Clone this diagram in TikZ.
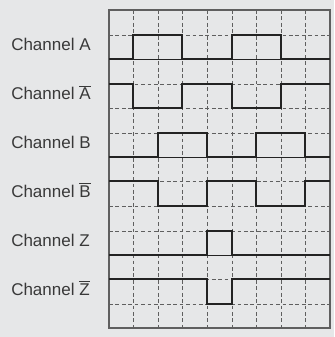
\documentclass[tikz,border=0pt]{standalone}
\usepackage{fontspec}
\setmainfont{Liberation Sans}
\definecolor{sfondo}{RGB}{230,231,232}
\definecolor{inchiostro}{RGB}{35,35,35}
\definecolor{grigio}{RGB}{95,95,95}
\newcommand{\negato}[1]{$\overline{\mbox{#1}}$}
\begin{document}
\begin{tikzpicture}[
  font=\fontsize{12.8}{14}\selectfont,
  cornice/.style={draw=grigio, line width=0.8pt},
  griglia/.style={draw=inchiostro, line width=0.7pt},
  tratteggio/.style={draw=grigio, line width=0.7pt, dash pattern=on 0.1cm off 0.07cm},
  segnale/.style={draw=inchiostro, line width=1.5pt, line join=miter},
  etichetta/.style={inner sep=0pt, anchor=base west, text=inchiostro!90}
]

%--------------------------------------------------------------
% Sfondo
%--------------------------------------------------------------
\fill[sfondo] (0,0) rectangle (8.837,-8.916);

%--------------------------------------------------------------
% Griglia tratteggiata: colonne e righe
%--------------------------------------------------------------
\draw[tratteggio] (3.519,-0.265) -- (3.519,-8.678);
\draw[tratteggio] (4.180,-0.265) -- (4.180,-8.678);
\draw[tratteggio] (4.815,-0.265) -- (4.815,-8.678);
\draw[tratteggio] (5.477,-0.265) -- (5.477,-8.678);
\draw[tratteggio] (6.138,-0.265) -- (6.138,-8.678);
\draw[tratteggio] (6.773,-0.265) -- (6.773,-8.678);
\draw[tratteggio] (7.435,-0.265) -- (7.435,-8.678);
\draw[tratteggio] (8.070,-0.265) -- (8.070,-8.678);
\draw[tratteggio] (2.884,-0.926) -- (8.731,-0.926);
\draw[tratteggio] (2.884,-2.222) -- (8.731,-2.222);
\draw[tratteggio] (2.884,-2.857) -- (8.731,-2.857);
\draw[tratteggio] (2.884,-3.519) -- (8.731,-3.519);
\draw[tratteggio] (2.884,-4.789) -- (8.731,-4.789);
\draw[tratteggio] (2.884,-5.450) -- (8.731,-5.450);
\draw[tratteggio] (2.884,-6.112) -- (8.731,-6.112);
\draw[tratteggio] (2.884,-7.382) -- (8.731,-7.382);
\draw[tratteggio] (2.884,-8.043) -- (8.731,-8.043);
% righe continue
\draw[griglia] (2.884,-1.561) -- (8.731,-1.561);
\draw[griglia] (2.884,-4.154) -- (8.731,-4.154);
\draw[griglia] (2.884,-6.747) -- (8.731,-6.747);

%--------------------------------------------------------------
% Cornice
%--------------------------------------------------------------
\draw[cornice] (2.884,-0.265) rectangle (8.731,-8.678);

%--------------------------------------------------------------
% Forme d'onda dei canali
%--------------------------------------------------------------
% canale A
\draw[segnale] (2.884,-1.561) -- (3.519,-1.561) -- (3.519,-0.926) -- (4.815,-0.926)
  -- (4.815,-1.561) -- (6.138,-1.561) -- (6.138,-0.926) -- (7.435,-0.926)
  -- (7.435,-1.561) -- (8.731,-1.561);
% canale A negato
\draw[segnale] (2.884,-2.222) -- (3.519,-2.222) -- (3.519,-2.857) -- (4.815,-2.857)
  -- (4.815,-2.222) -- (6.138,-2.222) -- (6.138,-2.857) -- (7.435,-2.857)
  -- (7.435,-2.222) -- (8.731,-2.222);
% canale B
\draw[segnale] (2.884,-4.154) -- (4.180,-4.154) -- (4.180,-3.519) -- (5.477,-3.519)
  -- (5.477,-4.154) -- (6.773,-4.154) -- (6.773,-3.519) -- (8.070,-3.519)
  -- (8.070,-4.154) -- (8.731,-4.154);
% canale B negato
\draw[segnale] (2.884,-4.789) -- (4.180,-4.789) -- (4.180,-5.450) -- (5.477,-5.450)
  -- (5.477,-4.789) -- (6.773,-4.789) -- (6.773,-5.450) -- (8.070,-5.450)
  -- (8.070,-4.789) -- (8.731,-4.789);
% canale Z: impulso di zero
\draw[segnale] (2.884,-6.747) -- (5.477,-6.747) -- (5.477,-6.112) -- (6.138,-6.112)
  -- (6.138,-6.747) -- (8.731,-6.747);
% canale Z negato
\draw[segnale] (2.884,-7.382) -- (5.477,-7.382) -- (5.477,-8.043) -- (6.138,-8.043)
  -- (6.138,-7.382) -- (8.731,-7.382);

%--------------------------------------------------------------
% Etichette dei canali
%--------------------------------------------------------------
\node[etichetta] (canaleA)  at (0.291,-1.336) {Channel A};
\node[etichetta] (canaleAn) at (0.291,-2.633) {Channel \negato{A}};
\node[etichetta] (canaleB)  at (0.291,-3.929) {Channel B};
\node[etichetta] (canaleBn) at (0.291,-5.212) {Channel \negato{B}};
\node[etichetta] (canaleZ)  at (0.291,-6.522) {Channel Z};
\node[etichetta] (canaleZn) at (0.291,-7.805) {Channel \negato{Z}};

\end{tikzpicture}
\end{document}
